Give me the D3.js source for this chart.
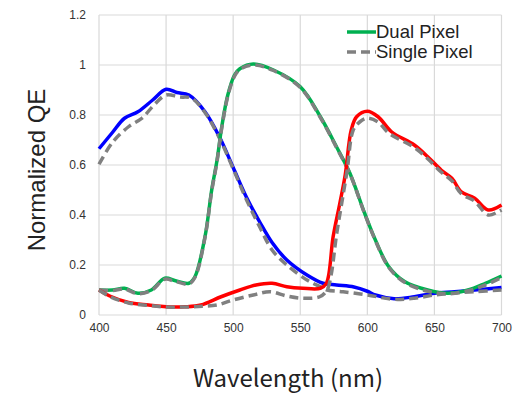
<!DOCTYPE html>
<html><head><meta charset="utf-8">
<script src="https://cdn.jsdelivr.net/npm/d3@7"></script>
<style>body{margin:0;background:#fff}svg{display:block}</style>
</head><body>
<script>
const xTicks = [400,450,500,550,600,650,700];
const yTicks = [0,0.2,0.4,0.6,0.8,1,1.2];
const yTickLabels = ["0","0.2","0.4","0.6","0.8","1","1.2"];
const legendLabels = ["Dual Pixel","Single Pixel"];

const blueDual = [[400,0.665],[410,0.73],[419,0.787],[429,0.813],[440,0.86],[450,0.903],[458,0.89],[467,0.88],[479,0.813],[490,0.71],[500,0.59],[510,0.47],[520,0.37],[529,0.29],[540,0.22],[555,0.16],[567,0.127],[577,0.12],[590,0.112],[600,0.095],[606,0.08],[620,0.065],[635,0.073],[650,0.087],[665,0.093],[680,0.1],[700,0.11]];
const blueSingle = [[400,0.603],[410,0.69],[422,0.753],[432,0.787],[441,0.84],[450,0.88],[460,0.872],[469,0.867],[479,0.81],[490,0.705],[500,0.585],[510,0.46],[520,0.35],[529,0.26],[540,0.2],[555,0.14],[565,0.113],[570,0.1],[582,0.093],[600,0.08],[619,0.063],[635,0.067],[650,0.08],[665,0.088],[680,0.093],[700,0.1]];
const greenDual = [[400,0.1],[410,0.1],[419,0.107],[429,0.087],[439,0.1],[449,0.147],[457,0.137],[467,0.127],[471.5,0.153],[479,0.313],[484,0.5],[488,0.62],[491.5,0.753],[496,0.88],[501,0.96],[505,0.985],[515,1.004],[530,0.98],[550,0.913],[565,0.793],[577,0.673],[587,0.567],[598,0.407],[606,0.3],[616,0.193],[628,0.133],[645,0.1],[660,0.087],[675,0.1],[688,0.127],[700,0.156]];
const greenSingle = [[400,0.1],[410,0.098],[419,0.104],[429,0.085],[439,0.098],[449,0.143],[457,0.134],[467,0.124],[471.5,0.15],[479,0.31],[484,0.495],[488,0.615],[491.5,0.748],[496,0.875],[501,0.955],[505,0.982],[515,1.0],[530,0.978],[550,0.91],[565,0.79],[577,0.67],[587,0.565],[598,0.405],[606,0.298],[616,0.19],[628,0.13],[645,0.095],[660,0.085],[675,0.097],[688,0.12],[700,0.15]];
const redDual = [[400,0.1],[408,0.076],[422,0.05],[437,0.04],[450,0.033],[464,0.033],[476,0.04],[491,0.073],[505,0.1],[517,0.12],[529,0.127],[540,0.113],[552,0.107],[565,0.107],[569.5,0.127],[574.5,0.313],[579.5,0.447],[583.5,0.56],[588,0.74],[592,0.793],[600,0.815],[608,0.793],[618,0.733],[635,0.68],[645,0.633],[655,0.58],[663,0.547],[670,0.493],[680,0.467],[690,0.42],[700,0.44]];
const redSingle = [[400,0.1],[408,0.074],[422,0.048],[437,0.038],[450,0.032],[464,0.032],[477,0.035],[488,0.04],[500,0.06],[515,0.08],[527.5,0.093],[540,0.076],[552,0.067],[564.5,0.073],[570,0.1],[573,0.16],[577,0.32],[581,0.45],[585,0.58],[589.5,0.74],[594.5,0.773],[600,0.787],[608,0.772],[616,0.727],[635,0.67],[645,0.625],[655,0.572],[663,0.537],[670,0.485],[680,0.455],[690,0.4],[697.5,0.413],[700,0.42]];

const W=516,H=396;
const svg=d3.select("body").append("svg").attr("width",W).attr("height",H);
const x=d3.scaleLinear().domain([400,700]).range([99,501.5]);
const y=d3.scaleLinear().domain([0,1.2]).range([315,15]);
const font="'Liberation Sans', Arial, sans-serif";

// grid
const g=svg.append("g");
g.selectAll(".vg").data(xTicks).enter().append("line")
 .attr("x1",d=>x(d)).attr("x2",d=>x(d)).attr("y1",y(0)).attr("y2",y(1.2))
 .attr("stroke","#d9d9d9").attr("stroke-width",1.2);
g.selectAll(".hg").data(yTicks).enter().append("line")
 .attr("x1",x(400)).attr("x2",x(700)).attr("y1",d=>y(d)).attr("y2",d=>y(d))
 .attr("stroke","#d9d9d9").attr("stroke-width",1.2);

const xAxis=d3.axisBottom(x).tickValues(xTicks).tickSize(0).tickPadding(8).tickFormat(d3.format("d"));
const xa=svg.append("g").attr("transform",`translate(0,${y(0)})`).call(xAxis);
xa.select(".domain").remove();
xa.selectAll("text").attr("font-family",font).attr("font-size",12).attr("fill","#333");
const yAxis=d3.axisLeft(y).tickValues(yTicks).tickSize(0).tickPadding(13).tickFormat((d,i)=>yTickLabels[i]);
const ya=svg.append("g").attr("transform",`translate(${x(400)},0)`).call(yAxis);
ya.select(".domain").remove();
ya.selectAll("text").attr("font-family",font).attr("font-size",12).attr("fill","#333");

const line=d3.line().x(d=>x(d[0])).y(d=>y(d[1])).curve(d3.curveCatmullRom.alpha(0.5));
const series=[
 {d:blueDual,c:"#0000ff",dash:null},
 {d:blueSingle,c:"#808080",dash:"9,5"},
 {d:greenDual,c:"#00b050",dash:null},
 {d:greenSingle,c:"#808080",dash:"9,5"},
 {d:redDual,c:"#ff0000",dash:null},
 {d:redSingle,c:"#808080",dash:"9,5"}
];
series.forEach(s=>{
 svg.append("path").datum(s.d).attr("d",line).attr("fill","none")
  .attr("stroke",s.c).attr("stroke-width",3.5).attr("stroke-dasharray",s.dash)
  .attr("stroke-linejoin","round");
});

// legend
const lg=svg.append("g");
const legendItems=[{c:"#00b050",dash:null},{c:"#808080",dash:"9,5"}];
legendItems.forEach((it,i)=>{
 const yy=32+i*20;
 lg.append("line").attr("x1",347).attr("x2",376).attr("y1",yy).attr("y2",yy)
  .attr("stroke",it.c).attr("stroke-width",3.5).attr("stroke-dasharray",it.dash);
 lg.append("text").attr("x",376).attr("y",yy+6).text(legendLabels[i])
  .attr("font-family",font).attr("font-size",18.5).attr("fill","#222");
});

// titles
svg.append("text").attr("x",288).attr("y",387).attr("text-anchor","middle")
 .attr("font-family","'Noto Sans CJK KR','Noto Sans',sans-serif").attr("font-size",24).attr("fill","#222")
 .text("Wavelength (nm)");
svg.append("text").attr("transform","translate(45,170) rotate(-90)").attr("text-anchor","middle")
 .attr("font-family",font).attr("font-size",24).attr("fill","#222")
 .text("Normalized QE");
</script>
</body></html>
